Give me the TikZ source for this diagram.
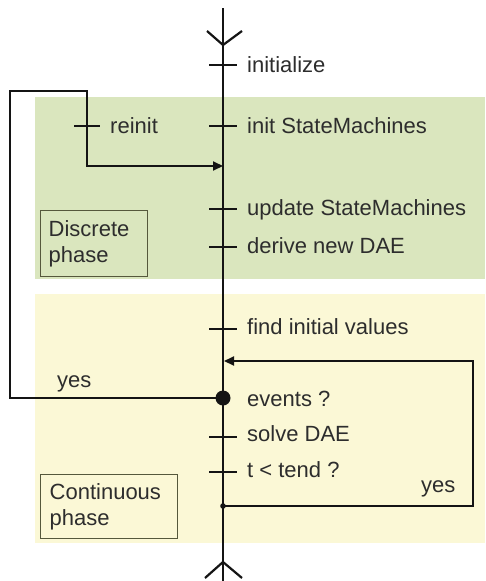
\documentclass[tikz,border=0pt]{standalone}
\usepackage{fontspec}
\setmainfont{Liberation Sans}
\usetikzlibrary{arrows.meta}
\definecolor{discgreen}{RGB}{218,230,190}
\definecolor{contyellow}{RGB}{251,248,214}
\definecolor{boxline}{RGB}{85,88,60}
\definecolor{inkline}{RGB}{20,20,20}
\definecolor{inktext}{RGB}{45,45,45}
\begin{document}
\begin{tikzpicture}[x=1pt,y=-1pt,
  mainline/.style={draw=inkline,line width=2.2pt},
  tickline/.style={draw=inkline,line width=1.8pt},
  loopline/.style={draw=inkline,line width=2.1pt},
  lbl/.style={inner sep=0pt,anchor=base west,text=inktext,font=\fontsize{22}{26}\selectfont},
  phasebox/.style={draw=boxline,line width=1.4pt,inner xsep=8pt,inner ysep=0pt,align=left,
    text=inktext,font=\fontsize{22}{26}\selectfont,anchor=north west},
  tipstyle/.style={-{Triangle[length=10pt,width=9pt]}}
]
\useasboundingbox (0,0) rectangle (485,581);
\fill[white] (0,0) rectangle (485,581);
\fill[discgreen] (35,97) rectangle (485,279);
\fill[contyellow] (35,294) rectangle (485,543);

% phase boxes
\node[phasebox,minimum width=107pt,minimum height=66pt,text width=91pt] (disc) at (40,210) {Discrete\\phase};
\node[phasebox,minimum width=137pt,minimum height=64pt,text width=119pt,inner xsep=9pt] (cont) at (40,474) {Continuous\\phase};

% main line
\coordinate (top) at (223,8);
\coordinate (bot) at (223,581);
\draw[mainline] (top) -- (bot);
\coordinate (tv) at (223,45);
\draw[mainline] ([shift={(-16,-14)}]tv) -- (tv) -- ([shift={(19,-14)}]tv);
\coordinate (bv) at (223,562);
\draw[mainline] ([shift={(-18,16)}]bv) -- (bv) -- ([shift={(19,16)}]bv);

% ticks on main line
\foreach \n/\yy in {t1/65,t2/126,t3/209,t4/247,t5/329,t6/437,t7/472}{
  \coordinate (\n) at (223,\yy);
  \draw[tickline] ([xshift=-14pt]\n) -- ([xshift=14pt]\n);
}

% labels
\node[lbl] (l1) at (247,72) {initialize};
\node[lbl] (l2) at (247,133) {init StateMachines};
\node[lbl] (l3) at (247,215) {update StateMachines};
\node[lbl] (l4) at (247,253) {derive new DAE};
\node[lbl] (l5) at (247,334) {find initial values};
\node[lbl] (l6) at (247,406) {events ?};
\node[lbl] (l7) at (247,441) {solve DAE};
\node[lbl] (l8) at (247,477) {t < tend ?};

% left loop (events -> reinit)
\coordinate (ev) at (223,398);
\coordinate (c1) at (10,398);
\coordinate (c2) at (10,91);
\coordinate (c3) at (87,91);
\coordinate (c4) at (87,166);
\coordinate (m1) at (223,166);
\draw[loopline,tipstyle] (ev) -- (c1) -- (c2) -- (c3) -- (c4) -- (m1);
\coordinate (rt) at (87,126);
\draw[tickline] ([xshift=-13pt]rt) -- ([xshift=13pt]rt);
\node[lbl] (reinit) at (110,133) {reinit};
\node[lbl] (yesl) at (57,387) {yes};
\fill[inkline] (ev) circle (7.5pt);

% right loop (t < tend -> back)
\coordinate (sm) at (223,506);
\coordinate (r1) at (473,506);
\coordinate (r2) at (473,361);
\coordinate (m2) at (224,361);
\draw[loopline,tipstyle] (sm) -- (r1) -- (r2) -- (m2);
\fill[inkline] (sm) circle (2.8pt);
\node[lbl] (yesr) at (421,492) {yes};
\end{tikzpicture}
\end{document}
